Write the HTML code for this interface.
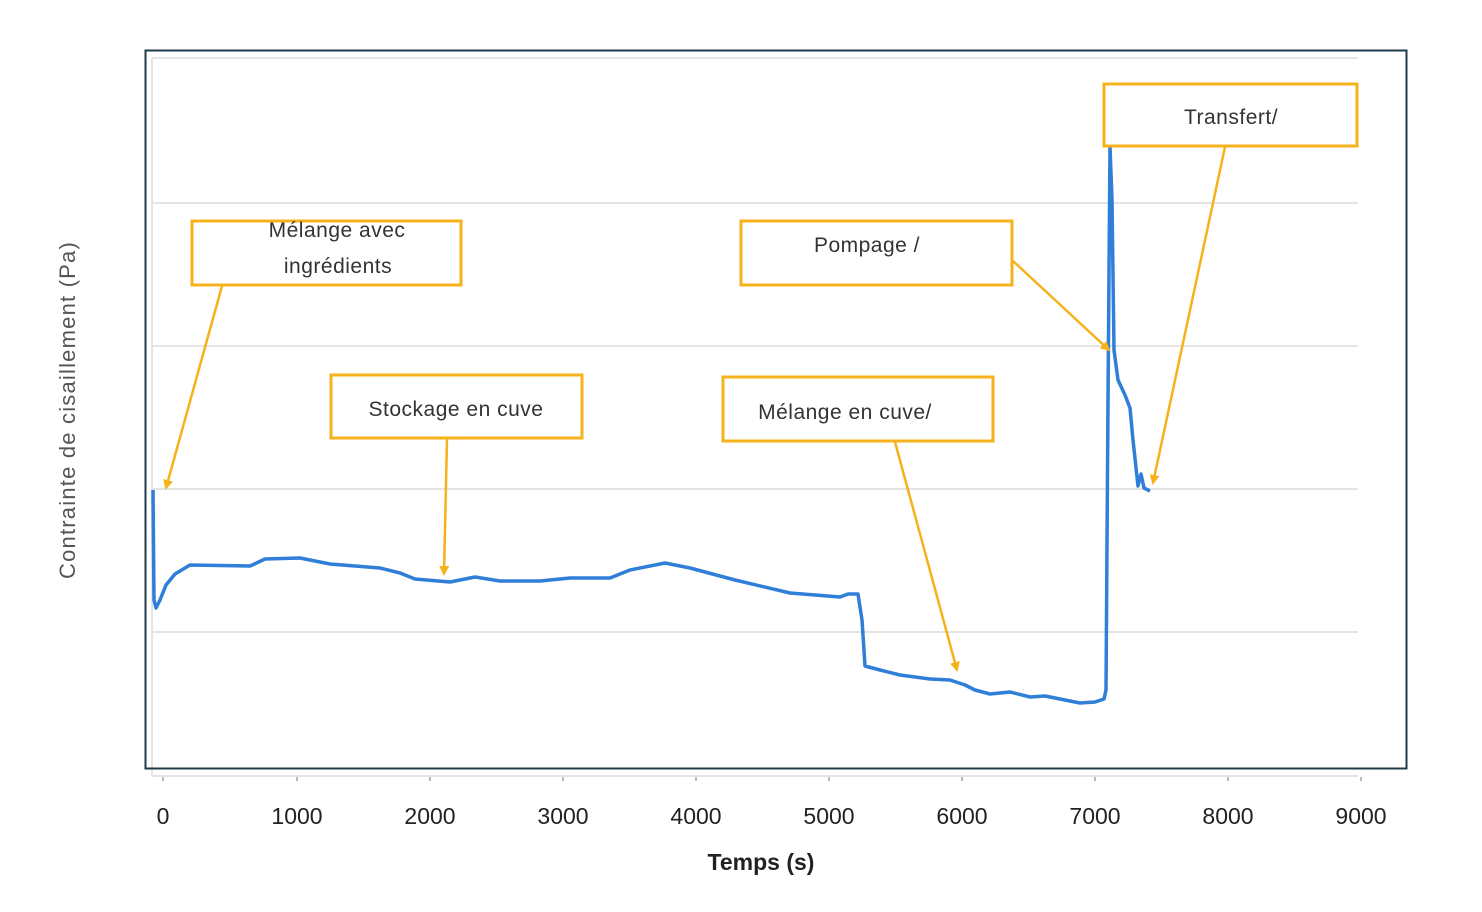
<!DOCTYPE html>
<html><head><meta charset="utf-8"><style>
html,body{margin:0;padding:0;background:#fff;}
svg{display:block;}
</style></head><body>
<svg width="1482" height="912" viewBox="0 0 1482 912" xmlns="http://www.w3.org/2000/svg" font-family="Liberation Sans, sans-serif">
<defs>
<marker id="ah" markerWidth="10" markerHeight="10" refX="8" refY="5" orient="auto" markerUnits="userSpaceOnUse">
<path d="M0,0 L10,5 L0,10 Z" fill="#f6b21b"/>
</marker>
</defs>
<rect x="0" y="0" width="1482" height="912" fill="#fff"/>
<g stroke="#e4e4e4" stroke-width="2">
<line x1="152" y1="58" x2="1358" y2="58"/>
<line x1="152" y1="203" x2="1358" y2="203"/>
<line x1="152" y1="346" x2="1358" y2="346"/>
<line x1="152" y1="489" x2="1358" y2="489"/>
<line x1="152" y1="632" x2="1358" y2="632"/>
<line x1="152" y1="776" x2="1358" y2="776"/>
<line x1="152" y1="58" x2="152" y2="776"/>
</g>
<g stroke="#bbb" stroke-width="2">
<line x1="163" y1="777" x2="163" y2="781"/><line x1="297" y1="777" x2="297" y2="781"/>
<line x1="430" y1="777" x2="430" y2="781"/><line x1="563" y1="777" x2="563" y2="781"/>
<line x1="696" y1="777" x2="696" y2="781"/><line x1="829" y1="777" x2="829" y2="781"/>
<line x1="962" y1="777" x2="962" y2="781"/><line x1="1095" y1="777" x2="1095" y2="781"/>
<line x1="1228" y1="777" x2="1228" y2="781"/><line x1="1361" y1="777" x2="1361" y2="781"/>
</g>
<rect x="145.5" y="50.5" width="1261" height="718" fill="none" stroke="#1f3a4a" stroke-width="2"/>
<g font-size="23" fill="#222" text-anchor="middle">
<text x="163" y="824">0</text>
<text x="297" y="824">1000</text>
<text x="430" y="824">2000</text>
<text x="563" y="824">3000</text>
<text x="696" y="824">4000</text>
<text x="829" y="824">5000</text>
<text x="962" y="824">6000</text>
<text x="1095" y="824">7000</text>
<text x="1228" y="824">8000</text>
<text x="1361" y="824">9000</text>
</g>
<text x="761" y="870" font-size="23" font-weight="bold" fill="#222" text-anchor="middle">Temps (s)</text>
<text transform="translate(75,410) rotate(-90)" font-size="22" letter-spacing="1.2" fill="#555" text-anchor="middle">Contrainte de cisaillement (Pa)</text>
<polyline fill="none" stroke="#2f7ed8" stroke-width="3.5" stroke-linejoin="round" points="153,490 154,600 156,608 160,600 166,585 175,574 190,565 250,566 265,559 300,558 330,564 380,568 400,573 415,579 450,582 475,577 500,581 540,581 570,578 610,578 630,570 665,563 690,568 735,580 790,593 840,597 848,594 858,594 862,620 865,666 880,670 900,675 930,679 950,680 965,685 975,690 990,694 1010,692 1030,697 1045,696 1060,699 1080,703 1095,702 1104,699 1106,690 1108,400 1110,147 1112,200 1114,350 1118,380 1125,395 1130,408 1133,440 1138,486 1141,474 1144,488 1150,491"/>
<g fill="#fff" stroke="#f6b21b" stroke-width="3">
<rect x="192" y="221" width="269" height="64"/>
<rect x="331" y="375" width="251" height="63"/>
<rect x="741" y="221" width="271" height="64"/>
<rect x="723" y="377" width="270" height="64"/>
<rect x="1104" y="84" width="253" height="62"/>
</g>
<g stroke="#f6b21b" stroke-width="2.5" marker-end="url(#ah)">
<line x1="222" y1="286" x2="166" y2="488"/>
<line x1="447" y1="439" x2="444" y2="574"/>
<line x1="1013" y1="261" x2="1109" y2="350"/>
<line x1="895" y1="442" x2="957" y2="670"/>
<line x1="1225" y1="147" x2="1153" y2="483"/>
</g>
<g font-size="21" fill="#333" text-anchor="middle" letter-spacing="0.5">
<text x="337" y="237">Mélange avec</text>
<text x="338" y="273">ingrédients</text>
<text x="456" y="416">Stockage en cuve</text>
<text x="867" y="252">Pompage /</text>
<text x="845" y="419">Mélange en cuve/</text>
<text x="1231" y="124">Transfert/</text>
</g>
</svg>
</body></html>
